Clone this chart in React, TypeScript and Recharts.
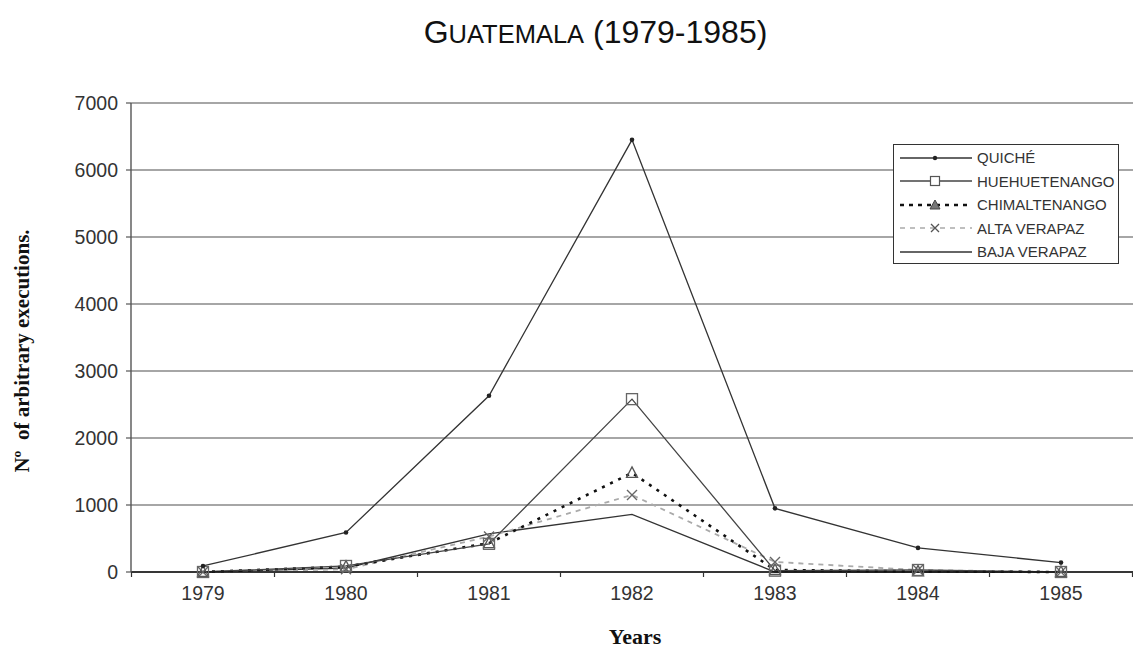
import React from 'react';
import { LineChart, Line, XAxis, YAxis, CartesianGrid } from 'recharts';

const years = ['1979', '1980', '1981', '1982', '1983', '1984', '1985'];
const quiche = [90, 590, 2630, 6450, 950, 360, 140];
const huehuetenango = [0, 90, 420, 2580, 20, 30, 0];
const chimaltenango = [0, 80, 430, 1480, 30, 10, 0];
const altaVerapaz = [0, 40, 530, 1150, 150, 30, 0];
const bajaVerapaz = [0, 60, 570, 860, 0, 0, 0];
const yTicks = [0, 1000, 2000, 3000, 4000, 5000, 6000, 7000];

const data = years.map((y, i) => ({
  year: y,
  quiche: quiche[i],
  huehue: huehuetenango[i],
  chimal: chimaltenango[i],
  alta: altaVerapaz[i],
  baja: bajaVerapaz[i],
}));

const W = 1133;
const H = 648;
const TOP = 103;
const AXIS_Y = 572;
const LEFT = 131;
const PAD = 72;
const STEP = (W - LEFT - 2 * PAD) / 6;
const SANS = '"Liberation Sans", Arial, sans-serif';
const SERIF = '"Liberation Serif", "Times New Roman", serif';

const DotQ = (p: any) => <circle key={p.index} cx={p.cx} cy={p.cy} r={2.3} fill="#222" />;
const DotSq = (p: any) => (
  <rect key={p.index} x={p.cx - 5.5} y={p.cy - 5.5} width={11} height={11} fill="none" stroke="#666" strokeWidth={1.3} />
);
const DotTri = (p: any) => (
  <path key={p.index} d={`M${p.cx},${p.cy - 6} L${p.cx + 5.5},${p.cy + 4.5} L${p.cx - 5.5},${p.cy + 4.5} Z`} fill="none" stroke="#555" strokeWidth={1.3} />
);
const DotX = (p: any) => (
  <path key={p.index} d={`M${p.cx - 5},${p.cy - 5} L${p.cx + 5},${p.cy + 5} M${p.cx + 5},${p.cy - 5} L${p.cx - 5},${p.cy + 5}`} stroke="#666" strokeWidth={1.4} />
);

const XTick = (p: any) => {
  const { x, payload, index } = p;
  return (
    <g>
      <line x1={x - STEP / 2} x2={x - STEP / 2} y1={AXIS_Y} y2={AXIS_Y + 5} stroke="#333" strokeWidth={1.2} />
      {index === years.length - 1 && (
        <line x1={x + STEP / 2} x2={x + STEP / 2} y1={AXIS_Y} y2={AXIS_Y + 5} stroke="#333" strokeWidth={1.2} />
      )}
      <text x={x} y={AXIS_Y + 28} textAnchor="middle" fontFamily={SANS} fontSize={19.5} fill="#333">
        {payload.value}
      </text>
    </g>
  );
};

const legendItems = [
  { name: 'QUICHÉ', stroke: '#333', dash: undefined, width: 1.3, marker: 'dot' },
  { name: 'HUEHUETENANGO', stroke: '#444', dash: undefined, width: 1.3, marker: 'sq' },
  { name: 'CHIMALTENANGO', stroke: '#111', dash: '4 5', width: 2.6, marker: 'tri' },
  { name: 'ALTA VERAPAZ', stroke: '#aaa', dash: '5 5', width: 1.6, marker: 'x' },
  { name: 'BAJA VERAPAZ', stroke: '#333', dash: undefined, width: 1.3, marker: 'none' },
];

const LegendIcon = ({ it }: any) => {
  const c = 35;
  const m = 8;
  return (
    <svg width={72} height={14} style={{ display: 'block' }}>
      <line x1={0} x2={72} y1={m - 1} y2={m - 1} stroke={it.stroke} strokeWidth={it.width} strokeDasharray={it.dash} />
      {it.marker === 'dot' && <circle cx={c} cy={m - 1} r={2.2} fill="#222" />}
      {it.marker === 'sq' && <rect x={c - 4.5} y={m - 5.5} width={9} height={9} fill="#fff" stroke="#555" strokeWidth={1.2} />}
      {it.marker === 'tri' && <path d={`M${c},${m - 6} L${c + 5},${m + 3} L${c - 5},${m + 3} Z`} fill="#777" stroke="#444" strokeWidth={1} />}
      {it.marker === 'x' && <path d={`M${c - 4},${m - 5} L${c + 4},${m + 3} M${c + 4},${m - 5} L${c - 4},${m + 3}`} stroke="#555" strokeWidth={1.3} />}
    </svg>
  );
};

export default function App() {
  return (
    <div style={{ position: 'absolute', left: 0, top: 0, width: W, height: H, background: '#fff' }}>
      <LineChart width={W} height={H} data={data} margin={{ top: TOP, right: 0, bottom: 46, left: 0 }}>
        <CartesianGrid vertical={false} stroke="#888" strokeWidth={1.4} />
        <XAxis
          dataKey="year"
          height={30}
          padding={{ left: PAD, right: PAD }}
          axisLine={{ stroke: '#111', strokeWidth: 1.4 }}
          tickLine={false}
          tick={<XTick />}
          interval={0}
        />
        <YAxis
          width={LEFT}
          domain={[0, 7000]}
          ticks={yTicks}
          interval={0}
          axisLine={{ stroke: '#555', strokeWidth: 1.4 }}
          tickLine={{ stroke: '#555', strokeWidth: 1.2 }}
          tickSize={5}
          tickMargin={8}
          tick={{ fontFamily: SANS, fontSize: 19.5, fill: '#333' }}
        />
        <Line dataKey="baja" stroke="#333" strokeWidth={1.3} dot={false} isAnimationActive={false} />
        <Line dataKey="alta" stroke="#aaa" strokeWidth={1.8} strokeDasharray="5 5" dot={DotX} isAnimationActive={false} />
        <Line dataKey="chimal" stroke="#111" strokeWidth={2.6} strokeDasharray="3 6" dot={DotTri} isAnimationActive={false} />
        <Line dataKey="huehue" stroke="#444" strokeWidth={1.3} dot={DotSq} isAnimationActive={false} />
        <Line dataKey="quiche" stroke="#333" strokeWidth={1.3} dot={DotQ} isAnimationActive={false} />
      </LineChart>

      <div style={{ position: 'absolute', left: 0, width: W, top: 16, textAlign: 'center', fontFamily: SANS, color: '#111', lineHeight: 1 }}>
        <span style={{ position: 'relative', left: 29 }}>
          <span style={{ fontSize: 32 }}>G</span>
          <span style={{ fontSize: 25.5 }}>UATEMALA</span>
          <span style={{ fontSize: 32 }}> (1979-1985)</span>
        </span>
      </div>

      <div
        style={{
          position: 'absolute',
          left: 893,
          top: 144,
          width: 226,
          height: 120,
          boxSizing: 'border-box',
          border: '1.5px solid #333',
          background: '#fff',
          paddingTop: 1,
        }}
      >
        {legendItems.map((it) => (
          <div key={it.name} style={{ display: 'flex', alignItems: 'center', height: 23.5, marginLeft: 6 }}>
            <LegendIcon it={it} />
            <span style={{ fontFamily: SANS, fontSize: 15, color: '#333', marginLeft: 5, lineHeight: 1 }}>{it.name}</span>
          </div>
        ))}
      </div>

      <div
        style={{
          position: 'absolute',
          left: 22,
          top: 351,
          transform: 'translate(-50%, -50%) rotate(-90deg)',
          whiteSpace: 'nowrap',
          fontFamily: SERIF,
          fontWeight: 'bold',
          fontSize: 21,
          color: '#111',
        }}
      >
        Nº&nbsp;&nbsp;of arbitrary executions.
      </div>

      <div
        style={{
          position: 'absolute',
          left: 635,
          top: 637,
          transform: 'translate(-50%, -50%)',
          fontFamily: SERIF,
          fontWeight: 'bold',
          fontSize: 22,
          color: '#111',
        }}
      >
        Years
      </div>
    </div>
  );
}
